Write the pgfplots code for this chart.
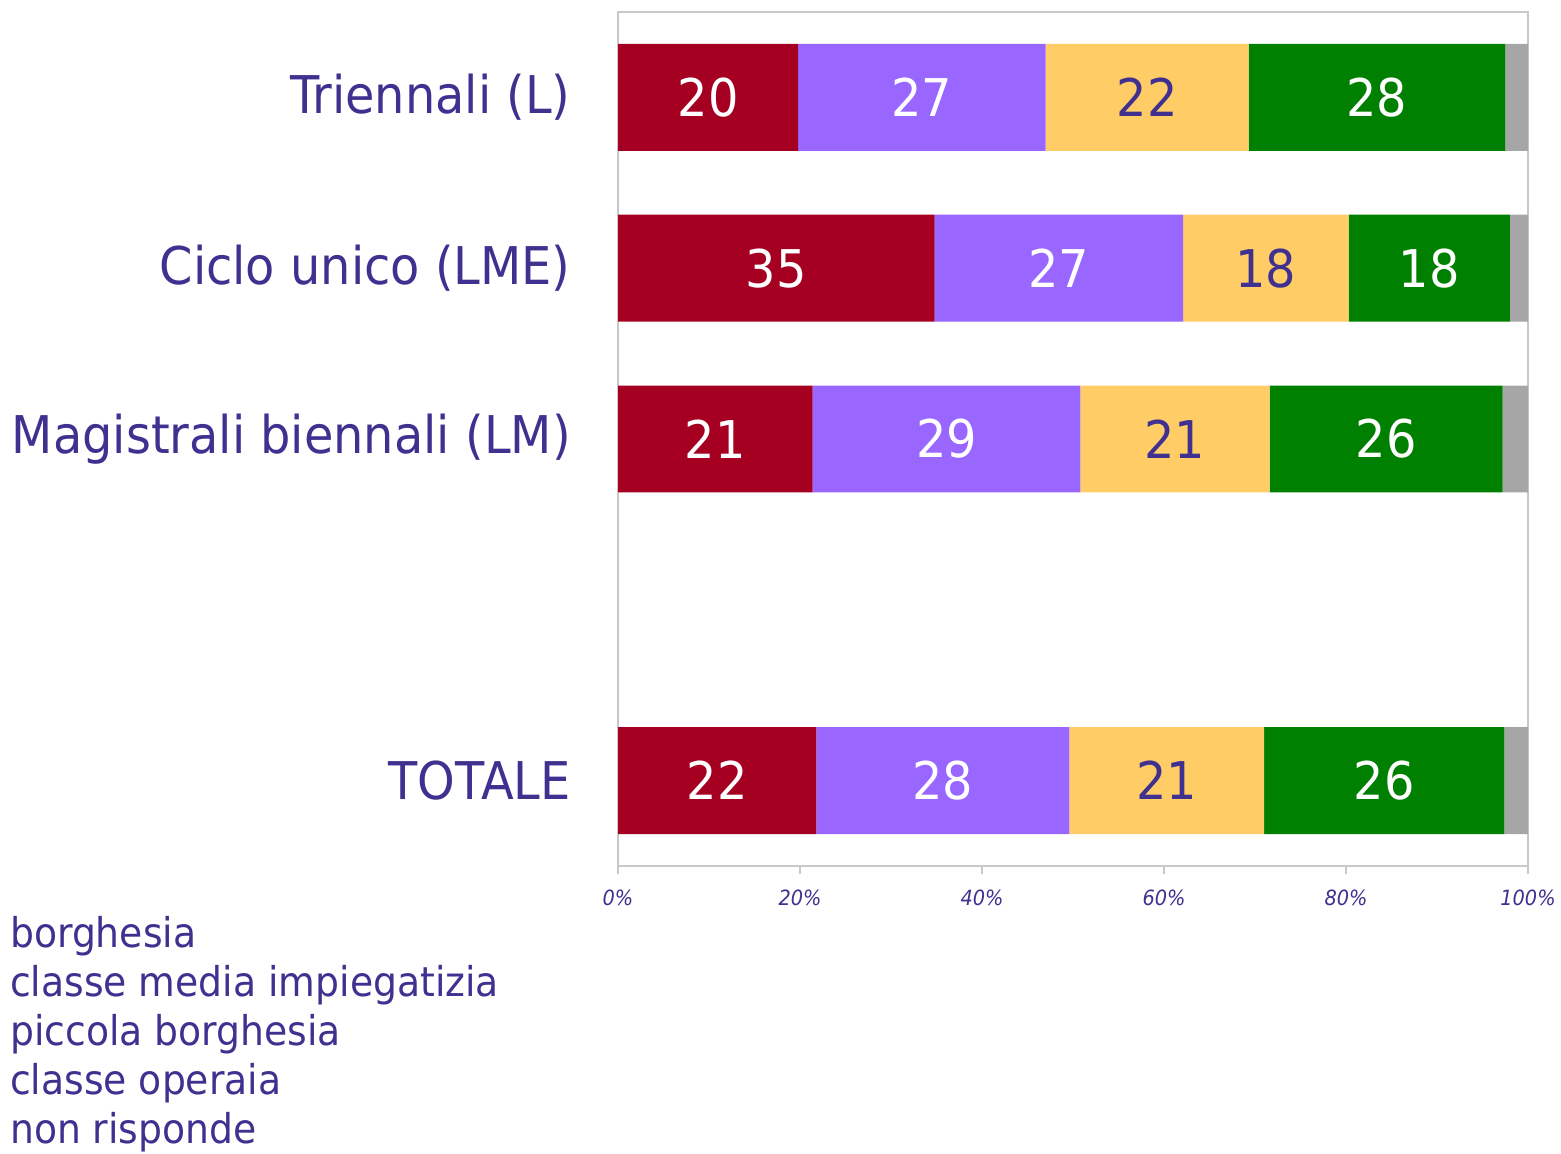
\documentclass[border=0pt]{standalone}
\usepackage{fontspec}
\setmainfont{DejaVu Sans}[FakeStretch=0.92]
\usepackage{pgfplots}
\usepackage{pgfplotstable}
\pgfplotsset{compat=1.18}

\definecolor{txt}{RGB}{64,48,144}
\definecolor{cbor}{HTML}{A50021}
\definecolor{ccmi}{HTML}{9966FF}
\definecolor{cpb}{HTML}{FFCC66}
\definecolor{cco}{HTML}{008000}
\definecolor{cnr}{HTML}{A6A6A6}
\definecolor{axgray}{HTML}{C8C8C8}

% pos: 4 = Triennali, 3 = Ciclo unico, 2 = Magistrali, 0 = TOTALE
\pgfplotstableread{
pos bor  cmi  pb   co   nr
4   19.8 27.2 22.3 28.2 2.5
3   34.8 27.3 18.2 17.7 2.0
2   21.4 29.4 20.8 25.6 2.8
0   21.8 27.8 21.4 26.4 2.6
}\datatab

\pgfplotsset{
  lbl/.style={
    point meta=explicit symbolic,
    nodes near coords={\pgfmathprintnumber[fixed,precision=0]{\pgfplotspointmeta}},
    every node near coord/.append style={anchor=center, inner sep=0pt,
      font=\fontsize{26}{30}\selectfont},
  },
}

\begin{document}
\begin{tikzpicture}
\useasboundingbox (0,0) rectangle (780.5pt,576.5pt);
\begin{axis}[
  at={(309pt,570.5pt)}, anchor=north west,
  scale only axis, width=455pt, height=427pt,
  xbar stacked, bar width=0.626,
  xmin=0, xmax=100, ymin=-0.5, ymax=4.5,
  clip=false,
  /pgf/number format/assume math mode=true,
  axis line style={axgray, line width=0.6pt},
  tick align=outside, major tick length=4pt,
  xtick={0,20,40,60,80,100},
  xticklabels={0\%,20\%,40\%,60\%,80\%,100\%},
  xtick pos=bottom, xtick style={axgray, line width=0.6pt},
  xticklabel style={font=\fontsize{10.5}{13}\selectfont\itshape, text=txt, inner sep=0pt, yshift=-8pt},
  ytick={4,3,2,0},
  yticklabels={Triennali (L),Ciclo unico (LME),Magistrali biennali (LM),TOTALE},
  ytick pos=left, ytick style={draw=none},
  yticklabel style={font=\fontsize{26}{30}\selectfont, text=txt, inner sep=0pt, xshift=-19.5pt},
  legend style={at={(-0.668,-0.0597)}, anchor=north west, draw=none, fill=none,
    inner sep=0pt, outer sep=0pt, row sep=4pt,
    nodes={inner sep=0pt, text height=15.5pt, text depth=5pt, text=txt,
      font=\fontsize{20.5}{24}\selectfont, anchor=west}},
  legend cell align=left,
  legend image code/.code={},
]
\addplot[fill=cbor, draw=none, lbl, every node near coord/.append style={text=white}]
  table[x=bor, y=pos, meta=bor] \datatab;
\addplot[fill=ccmi, draw=none, lbl, every node near coord/.append style={text=white}]
  table[x=cmi, y=pos, meta=cmi] \datatab;
\addplot[fill=cpb, draw=none, lbl, every node near coord/.append style={text=txt}]
  table[x=pb, y=pos, meta=pb] \datatab;
\addplot[fill=cco, draw=none, lbl, every node near coord/.append style={text=white}]
  table[x=co, y=pos, meta=co] \datatab;
\addplot[fill=cnr, draw=none]
  table[x=nr, y=pos] \datatab;
\legend{borghesia, classe media impiegatizia, piccola borghesia, classe operaia, non risponde}
\end{axis}
\end{tikzpicture}
\end{document}
